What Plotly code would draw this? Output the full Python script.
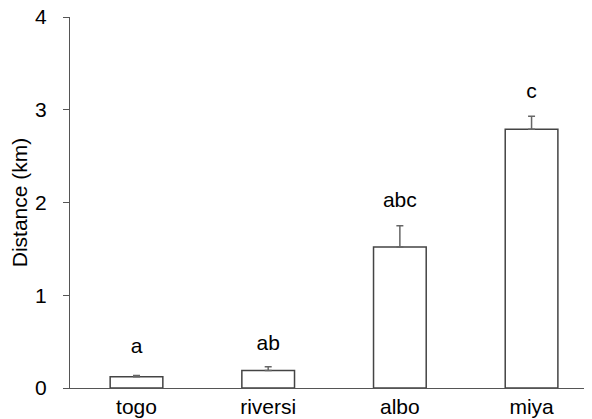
import plotly.graph_objects as go

categories = ["togo", "riversi", "albo", "miya"]
means = [0.12, 0.19, 1.52, 2.79]
errors_up = [0.015, 0.04, 0.23, 0.14]
letters = ["a", "ab", "abc", "c"]
letter_y = [0.43, 0.47, 2.01, 3.18]
y_ticks = [0, 1, 2, 3, 4]

x = list(range(len(categories)))
FONT = "Liberation Sans, Arial, sans-serif"

fig = go.Figure()
fig.add_trace(go.Bar(
    x=x, y=means, width=0.40,
    marker=dict(color="white", line=dict(color="#444444", width=1.5)),
    error_y=dict(type="data", array=errors_up, symmetric=False,
                 arrayminus=[0] * len(means),
                 color="#666666", thickness=1.5, width=3.5),
))
fig.add_trace(go.Scatter(
    x=x, y=letter_y, mode="text", text=letters,
    textfont=dict(family=FONT, size=21, color="black"),
    textposition="middle center", hoverinfo="skip",
))

# page body has an 8px default margin, so the figure is shrunk/shifted to compensate
fig.update_layout(
    width=584, height=411,
    margin=dict(l=62, r=0, t=9, b=31, autoexpand=False),
    plot_bgcolor="white", paper_bgcolor="white",
    showlegend=False,
    font=dict(family=FONT, size=21, color="black"),
    xaxis=dict(
        range=[-0.505, 3.459],
        tickvals=x, ticktext=categories,
        showline=True, linecolor="#555555", linewidth=1.2,
        ticks="", showgrid=False, zeroline=False, automargin=False,
        tickfont=dict(size=21),
    ),
    yaxis=dict(
        range=[0, 4], tickvals=y_ticks,
        showline=True, linecolor="#555555", linewidth=1.2,
        ticks="outside", ticklen=6, tickcolor="#555555", tickwidth=1.2,
        ticklabelstandoff=12, ticklabeloverflow="allow", automargin=False,
        showgrid=False, zeroline=False,
        tickfont=dict(size=21),
        title=dict(text="Distance (km)", font=dict(size=21), standoff=12),
    ),
)

fig.write_html("out.html")
